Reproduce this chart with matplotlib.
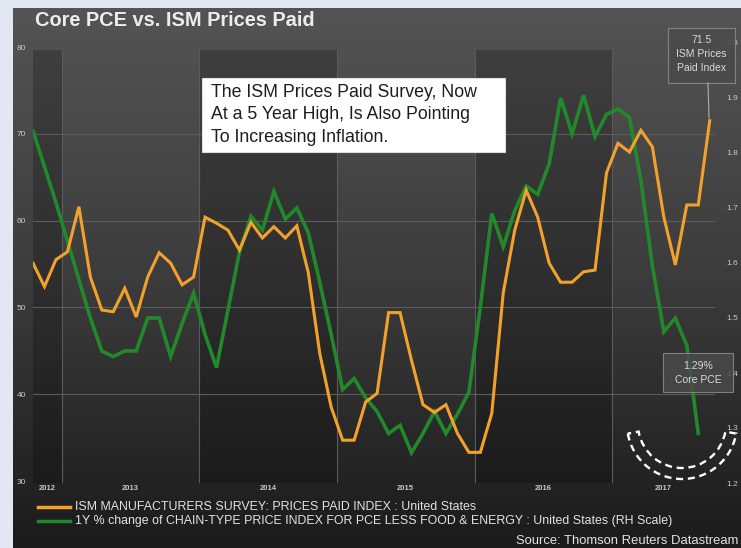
import numpy as np
import matplotlib.pyplot as plt
from matplotlib.patches import Rectangle, Wedge
from matplotlib.lines import Line2D

plt.rcParams['font.family'] = ['Liberation Sans', 'DejaVu Sans']

# ISM prices paid index, monthly (Oct 2012 - Sep 2017), left scale
ism = [55.1, 52.4, 55.5, 56.4, 61.6, 53.5, 49.7, 49.5, 52.2, 48.9,
       53.5, 56.3, 55.1, 52.6, 53.5, 60.4, 59.7, 58.9, 56.6, 59.8,
       58.0, 59.3, 58.0, 59.4, 54.0, 44.7, 38.5, 34.7, 34.7, 39.1,
       40.1, 49.4, 49.4, 43.9, 38.8, 37.9, 38.8, 35.5, 33.3, 33.3,
       37.8, 51.7, 58.9, 63.5, 60.4, 55.1, 52.9, 52.9, 54.1, 54.3,
       65.5, 68.9, 67.9, 70.4, 68.5, 60.4, 54.9, 61.8, 61.8, 71.5]

# core PCE, 1Y % change (Oct 2012 - Aug 2017), right scale
core_pce = [1.84, 1.775, 1.71, 1.64, 1.57, 1.50, 1.44, 1.43, 1.44, 1.44,
            1.50, 1.50, 1.43, 1.49, 1.545, 1.47, 1.41, 1.515, 1.62, 1.685,
            1.66, 1.73, 1.68, 1.70, 1.655, 1.565, 1.47, 1.37, 1.39, 1.355,
            1.33, 1.29, 1.305, 1.255, 1.29, 1.33, 1.29, 1.325, 1.365, 1.52,
            1.69, 1.63, 1.695, 1.74, 1.725, 1.78, 1.90, 1.835, 1.905, 1.83,
            1.87, 1.88, 1.865, 1.75, 1.595, 1.475, 1.50, 1.45, 1.29]

years = ['2012', '2013', '2014', '2015', '2016', '2017']
year_starts = [2.5, 14.5, 26.5, 38.5, 50.5]   # month index of each January
left_ticks = [30, 40, 50, 60, 70, 80]
right_ticks = [1.2, 1.3, 1.4, 1.5, 1.6, 1.7, 1.8, 1.9, 2.0]

W, H = 741, 548
ORANGE = '#f2a22c'
GREEN = '#22892a'
LABEL = '#c9c9c9'


def fx(x):
    return x / W


def fy(y):
    return 1 - y / H


fig = plt.figure(figsize=(W / 100, H / 100), dpi=100, facecolor='#e3e6f3')

# dark panel with vertical gradient
bg = fig.add_axes([fx(13), 0, fx(W - 13), 1 - 8 / H])
grad = np.linspace(0, 1, 256).reshape(-1, 1)
bg.imshow(grad, aspect='auto', cmap=plt.matplotlib.colors.LinearSegmentedColormap.from_list(
    'panel', ['#545454', '#3c3c3c', '#1b1b1b']), extent=[0, 1, 0, 1])
bg.axis('off')

xmax = 682 / 11.47
x = np.arange(len(ism))
x2 = np.arange(len(core_pce))

# right-scale axes (drawn below)
ax2 = fig.add_axes([fx(33), (H - 483) / H, fx(682), 440 / H])
ax2.set_xlim(0, xmax)
ax2.set_ylim(1.2, 2.0)
ax2.patch.set_alpha(0)

# shaded alternate years
spans = [0] + year_starts + [xmax]
for i in range(0, len(spans) - 1, 2):
    ax2.axvspan(spans[i], spans[i + 1], ymin=-0.005, ymax=0.985,
                color='black', alpha=0.22, lw=0)
for v in year_starts:
    ax2.axvline(v, color='#5b5b5b', lw=0.8, ymax=0.985)
for v in [1.2 + (t - 30) / 50 * 0.8 * 434 / 440 + 0.0036 for t in [40, 50, 60, 70]]:
    ax2.axhline(v, color='#5c5c5c', lw=0.8)

ax2.plot(x2, core_pce, color=GREEN, lw=2.6, solid_joinstyle='miter')

ax2.set_yticks(right_ticks)
ax2.set_yticklabels(['%.1f' % t for t in right_ticks])
ax2.yaxis.tick_right()
ax2.tick_params(axis='y', length=0, labelsize=6, labelcolor=LABEL, pad=8)
ax2.set_xticks([])
for s in ax2.spines.values():
    s.set_visible(False)

# left-scale axes (drawn on top)
ax = fig.add_axes([fx(33), (H - 481) / H, fx(682), 434 / H], sharex=ax2)
ax.set_ylim(30, 80)
ax.patch.set_alpha(0)
ax.plot(x, ism, color=ORANGE, lw=2.2, solid_joinstyle='miter')
ax.set_yticks(left_ticks)
ax.tick_params(axis='y', length=0, labelsize=6, labelcolor=LABEL, pad=5)
ax.tick_params(axis='x', length=0, labelbottom=False)
for s in ax.spines.values():
    s.set_visible(False)

# year labels centred in each year segment
for i, yr in enumerate(years):
    c = (spans[i] + spans[i + 1]) / 2
    ax.text(c, -0.017, yr, transform=ax.get_xaxis_transform(), ha='center',
            va='center', fontsize=5.5, color=LABEL, fontweight='bold')

# title
fig.text(fx(35), fy(21), 'Core PCE vs. ISM Prices Paid', fontsize=14.4,
         fontweight='bold', color='#ededed', va='center', ha='left')

# white callout
fig.add_artist(Rectangle((fx(202), fy(152)), fx(303), 74 / H, transform=fig.transFigure,
                         facecolor='white', edgecolor='#dddddd', lw=0.8))
fig.text(fx(211), fy(84), 'The ISM Prices Paid Survey, Now\nAt a 5 Year High, Is Also Pointing\n'
         'To Increasing Inflation.', fontsize=12.8, color='#1d1d1d', va='top', ha='left',
         linespacing=1.42)

# value boxes
for (x0, y0, x1, y1), txt, ty in [((668, 28, 735, 83), '71.5\nISM Prices\nPaid Index', 54),
                                  ((663, 353, 733, 392), '1.29%\nCore PCE', 373)]:
    fig.add_artist(Rectangle((fx(x0), fy(y1)), fx(x1 - x0), (y1 - y0) / H,
                             transform=fig.transFigure, facecolor='#4a4a4a', alpha=0.85,
                             edgecolor='#8c8c8c', lw=0.8))
    fig.text(fx((x0 + x1) / 2), fy(ty), txt, fontsize=7.5, color='#dadada',
             ha='center', va='center', linespacing=1.5)
fig.add_artist(Line2D([fx(708), fx(709)], [fy(83), fy(118)], transform=fig.transFigure,
                      color='#b0b0b0', lw=0.8))

# dashed cup at the bottom right
fig.add_artist(Wedge((6.82, (H - 424) / 100), 0.55, 190, 350, width=0.11,
                     transform=fig.dpi_scale_trans, fill=False, edgecolor='white',
                     linestyle=(0, (3, 2)), lw=1.7))

# legend
legend_items = [(ORANGE, 'ISM MANUFACTURERS SURVEY: PRICES PAID INDEX : United States', 507),
                (GREEN, '1Y % change of CHAIN-TYPE PRICE INDEX FOR PCE LESS FOOD & ENERGY : '
                        'United States (RH Scale)', 521)]
for col, txt, yy in legend_items:
    fig.add_artist(Line2D([fx(38), fx(70)], [fy(yy), fy(yy)], transform=fig.transFigure,
                          color=col, lw=2.5))
    fig.text(fx(75), fy(yy), txt, fontsize=8.9, color='#e2e2e2', va='center', ha='left')

fig.text(fx(738), fy(541), 'Source: Thomson Reuters Datastream', fontsize=9.4,
         color='#e2e2e2', va='center', ha='right')

fig.savefig('out.png', dpi=100, facecolor=fig.get_facecolor())
